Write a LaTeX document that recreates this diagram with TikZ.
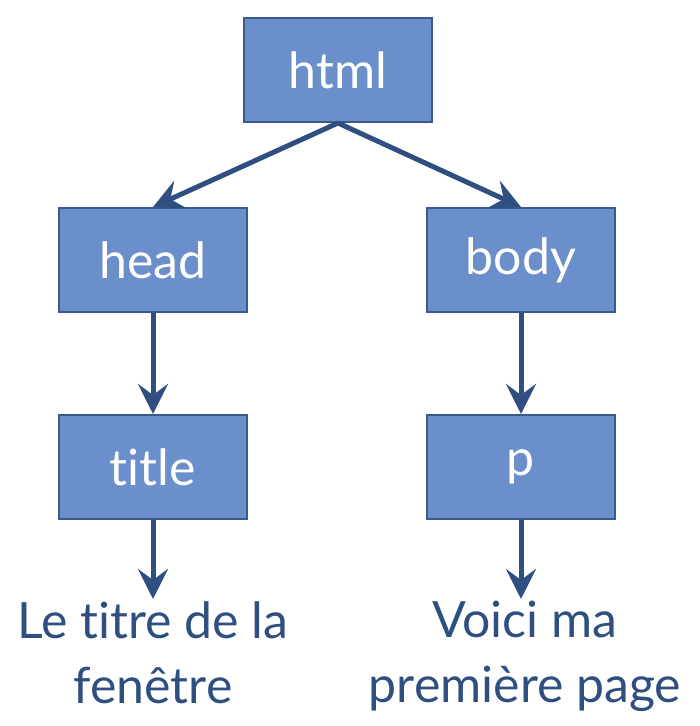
\documentclass[tikz,border=0pt]{standalone}
\usepackage{fontspec}
\setmainfont[Ligatures={NoCommon}]{Lato}
\usepackage{tikz}
\usetikzlibrary{arrows.meta,positioning}
\definecolor{boxfill}{HTML}{6A8FCB}
\definecolor{boxline}{HTML}{3A5A8C}
\definecolor{arrowblue}{HTML}{2F4F81}
\tikzstyle{tag}  = [draw=boxline,line width=2pt,fill=boxfill,text=white,minimum width=188pt,minimum height=104pt,inner sep=0pt,font=\fontsize{50}{60}\selectfont]
\tikzstyle{leaf} = [text=arrowblue,align=center,inner sep=0pt,font=\fontsize{50}{65}\selectfont]

\begin{document}
\begin{tikzpicture}[x=1pt,y=1pt,-{Stealth[length=30pt,width=30pt,inset=11pt]},line width=5pt,draw=arrowblue,node distance=190pt]
\useasboundingbox (0,0) rectangle (700,-726);

\node[tag] (html) at (338,-70) {html};
\node[tag] (head)  [below of=html,xshift=-185pt]      {head};
\node[tag] (body)  [right of=head,node distance=368pt] {body};
\node[tag] (title) [below of=head,node distance=207pt] {title};
\node[tag] (p)     [below of=body,node distance=207pt] {p};

\node[leaf] (titletxt) [below=79pt of title] {Le titre de la\\fenêtre};
\node[leaf] (ptxt)     [below=79pt of p,xshift=4pt] {Voici ma\\première page};

\path
    (html.south)  edge (head.north)
    (html.south)  edge (body.north)
    (head)        edge (title)
    (body)        edge (p);
\path
    (title)       edge (titletxt)
    (p.south)     edge (p.south |- ptxt.north);
\end{tikzpicture}
\end{document}
